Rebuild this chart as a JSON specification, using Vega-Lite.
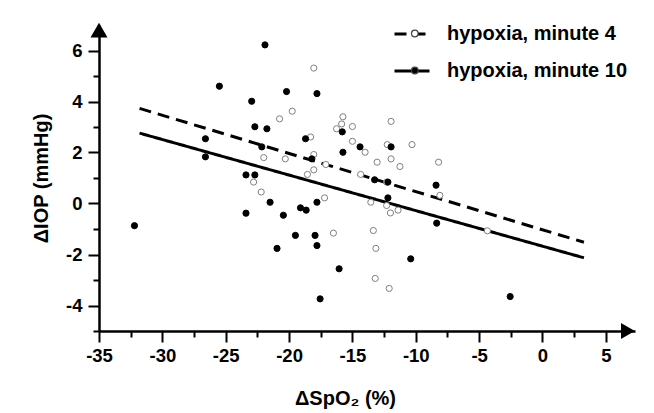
{
  "$schema": "https://vega.github.io/schema/vega-lite/v6.json",
  "width": 536,
  "height": 306,
  "autosize": {"type": "none"},
  "padding": {"left": 99, "top": 25, "right": 19, "bottom": 82},
  "background": "white",
  "config": {
    "view": {"stroke": null},
    "font": "Liberation Sans",
    "axis": {
      "grid": false,
      "domainColor": "black",
      "domainWidth": 2.5,
      "tickColor": "black",
      "tickWidth": 2,
      "labelFont": "Liberation Sans",
      "labelFontWeight": "bold",
      "labelFontSize": 18.5,
      "labelColor": "black",
      "titleFont": "Liberation Sans",
      "titleFontWeight": "bold",
      "titleFontSize": 20,
      "titleColor": "black"
    }
  },
  "datasets": {
    "pts": [
      {"series": "hypoxia, minute 4", "x": -22.0, "y": 1.8},
      {"series": "hypoxia, minute 4", "x": -22.8, "y": 0.84},
      {"series": "hypoxia, minute 4", "x": -22.2, "y": 0.45},
      {"series": "hypoxia, minute 4", "x": -20.3, "y": 1.75},
      {"series": "hypoxia, minute 4", "x": -20.75, "y": 3.32},
      {"series": "hypoxia, minute 4", "x": -19.75, "y": 3.62},
      {"series": "hypoxia, minute 4", "x": -18.05, "y": 5.31},
      {"series": "hypoxia, minute 4", "x": -18.3, "y": 2.61},
      {"series": "hypoxia, minute 4", "x": -18.05, "y": 1.92},
      {"series": "hypoxia, minute 4", "x": -18.05, "y": 1.32},
      {"series": "hypoxia, minute 4", "x": -18.55, "y": 1.14},
      {"series": "hypoxia, minute 4", "x": -17.1, "y": 1.53},
      {"series": "hypoxia, minute 4", "x": -17.2, "y": 0.22},
      {"series": "hypoxia, minute 4", "x": -16.5, "y": -1.16},
      {"series": "hypoxia, minute 4", "x": -15.75, "y": 3.4},
      {"series": "hypoxia, minute 4", "x": -15.85, "y": 3.12},
      {"series": "hypoxia, minute 4", "x": -16.25, "y": 2.93},
      {"series": "hypoxia, minute 4", "x": -15.0, "y": 3.02},
      {"series": "hypoxia, minute 4", "x": -15.0, "y": 2.44},
      {"series": "hypoxia, minute 4", "x": -14.0, "y": 2.01},
      {"series": "hypoxia, minute 4", "x": -14.35, "y": 1.14},
      {"series": "hypoxia, minute 4", "x": -13.05, "y": 1.62},
      {"series": "hypoxia, minute 4", "x": -12.25, "y": 2.31},
      {"series": "hypoxia, minute 4", "x": -11.95, "y": 3.22},
      {"series": "hypoxia, minute 4", "x": -10.3, "y": 2.31},
      {"series": "hypoxia, minute 4", "x": -11.95, "y": 1.75},
      {"series": "hypoxia, minute 4", "x": -11.25, "y": 1.45},
      {"series": "hypoxia, minute 4", "x": -8.2, "y": 1.62},
      {"series": "hypoxia, minute 4", "x": -12.3, "y": 0.84},
      {"series": "hypoxia, minute 4", "x": -8.1, "y": 0.32},
      {"series": "hypoxia, minute 4", "x": -13.55, "y": 0.05},
      {"series": "hypoxia, minute 4", "x": -12.3, "y": -0.08},
      {"series": "hypoxia, minute 4", "x": -12.0, "y": -0.37},
      {"series": "hypoxia, minute 4", "x": -11.4, "y": -0.26},
      {"series": "hypoxia, minute 4", "x": -13.35, "y": -1.06},
      {"series": "hypoxia, minute 4", "x": -13.15, "y": -1.76},
      {"series": "hypoxia, minute 4", "x": -13.2, "y": -2.94},
      {"series": "hypoxia, minute 4", "x": -12.1, "y": -3.33},
      {"series": "hypoxia, minute 4", "x": -4.35, "y": -1.07},
      {"series": "hypoxia, minute 10", "x": -32.2, "y": -0.87},
      {"series": "hypoxia, minute 10", "x": -26.6, "y": 2.54},
      {"series": "hypoxia, minute 10", "x": -26.6, "y": 1.83},
      {"series": "hypoxia, minute 10", "x": -25.5, "y": 4.6},
      {"series": "hypoxia, minute 10", "x": -23.4, "y": 1.12},
      {"series": "hypoxia, minute 10", "x": -22.7, "y": 1.12},
      {"series": "hypoxia, minute 10", "x": -23.4, "y": -0.38},
      {"series": "hypoxia, minute 10", "x": -22.95, "y": 4.01},
      {"series": "hypoxia, minute 10", "x": -22.7, "y": 3.01},
      {"series": "hypoxia, minute 10", "x": -21.9, "y": 6.22},
      {"series": "hypoxia, minute 10", "x": -21.75, "y": 2.93},
      {"series": "hypoxia, minute 10", "x": -22.15, "y": 2.22},
      {"series": "hypoxia, minute 10", "x": -21.5, "y": 0.05},
      {"series": "hypoxia, minute 10", "x": -20.45, "y": -0.46},
      {"series": "hypoxia, minute 10", "x": -20.2, "y": 4.39},
      {"series": "hypoxia, minute 10", "x": -19.1, "y": -0.17},
      {"series": "hypoxia, minute 10", "x": -18.65, "y": -0.26},
      {"series": "hypoxia, minute 10", "x": -17.8, "y": 0.05},
      {"series": "hypoxia, minute 10", "x": -18.7, "y": 2.54},
      {"series": "hypoxia, minute 10", "x": -18.2, "y": 1.75},
      {"series": "hypoxia, minute 10", "x": -17.8, "y": 4.31},
      {"series": "hypoxia, minute 10", "x": -19.5, "y": -1.25},
      {"series": "hypoxia, minute 10", "x": -20.95, "y": -1.76},
      {"series": "hypoxia, minute 10", "x": -17.95, "y": -1.25},
      {"series": "hypoxia, minute 10", "x": -17.8, "y": -1.65},
      {"series": "hypoxia, minute 10", "x": -17.55, "y": -3.74},
      {"series": "hypoxia, minute 10", "x": -16.05, "y": -2.56},
      {"series": "hypoxia, minute 10", "x": -15.8, "y": 2.81},
      {"series": "hypoxia, minute 10", "x": -15.75, "y": 2.01},
      {"series": "hypoxia, minute 10", "x": -14.4, "y": 2.22},
      {"series": "hypoxia, minute 10", "x": -13.25, "y": 0.93},
      {"series": "hypoxia, minute 10", "x": -12.2, "y": 0.84},
      {"series": "hypoxia, minute 10", "x": -12.2, "y": 0.22},
      {"series": "hypoxia, minute 10", "x": -11.95, "y": 2.22},
      {"series": "hypoxia, minute 10", "x": -10.4, "y": -2.17},
      {"series": "hypoxia, minute 10", "x": -8.4, "y": 0.72},
      {"series": "hypoxia, minute 10", "x": -8.35, "y": -0.77},
      {"series": "hypoxia, minute 10", "x": -2.55, "y": -3.65}
    ],
    "fits": [
      {"fit": "hypoxia, minute 4 ", "x": -31.8, "y": 3.73},
      {"fit": "hypoxia, minute 4 ", "x": 3.27, "y": -1.52},
      {"fit": "hypoxia, minute 10 ", "x": -31.8, "y": 2.76},
      {"fit": "hypoxia, minute 10 ", "x": 3.27, "y": -2.13}
    ],
    "arrows": [
      {"x": -35, "y": 6.8, "shape": "triangle-up", "size": 289},
      {"x": 6.74, "y": -5, "shape": "triangle-right", "size": 256}
    ]
  },
  "encoding": {
    "x": {
      "field": "x",
      "type": "quantitative",
      "scale": {"domain": [-35, 7.3], "nice": false, "zero": false},
      "axis": {
        "title": "ΔSpO₂ (%)",
        "values": [-35, -32.5, -30, -27.5, -25, -22.5, -20, -17.5, -15, -12.5, -10, -7.5, -5, -2.5, 0, 2.5, 5],
        "tickSize": {"condition": {"test": "datum.value % 5 === 0", "value": 11}, "value": 6},
        "labelExpr": "datum.value % 5 === 0 ? '' + datum.value : ''",
        "labelPadding": 4,
        "labelFlush": false,
        "labelOverlap": false,
        "titleX": 246,
        "titlePadding": 24
      }
    },
    "y": {
      "field": "y",
      "type": "quantitative",
      "scale": {"domain": [-5, 7], "nice": false, "zero": false},
      "axis": {
        "title": "ΔIOP (mmHg)",
        "values": [-5, -4, -3, -2, -1, 0, 1, 2, 3, 4, 5, 6],
        "tickSize": {"condition": {"test": "datum.value % 2 === 0", "value": 11}, "value": 6},
        "labelExpr": "datum.value % 2 === 0 ? '' + datum.value : ''",
        "labelPadding": 6,
        "labelFlush": false,
        "labelOverlap": false,
        "titlePadding": 14
      }
    }
  },
  "layer": [
    {
      "data": {"name": "fits"},
      "mark": {"type": "line", "strokeWidth": 3, "color": "black"},
      "encoding": {
        "detail": {"field": "fit"},
        "strokeDash": {
          "field": "fit",
          "type": "nominal",
          "scale": {"domain": ["hypoxia, minute 4 ", "hypoxia, minute 10 "], "range": [[12, 7], [1, 0]]},
          "legend": {
            "title": null,
            "orient": "none",
            "legendX": 294,
            "legendY": -10,
            "padding": 0,
            "zindex": 1,
            "symbolType": "stroke",
            "symbolSize": 1225,
            "symbolStrokeWidth": 3,
            "symbolStrokeColor": "black",
            "labelFont": "Liberation Sans",
            "labelFontSize": 20,
            "labelFontWeight": "bold",
            "labelOpacity": 0,
            "labelOffset": 17,
            "rowPadding": 8,
            "labelLimit": 300
          }
        }
      }
    },
    {
      "data": {"name": "pts"},
      "mark": {"type": "point", "shape": "circle", "size": 38, "strokeWidth": 1, "opacity": 1, "filled": true},
      "encoding": {
        "fill": {
          "field": "series",
          "type": "nominal",
          "scale": {"domain": ["hypoxia, minute 4", "hypoxia, minute 10"], "range": ["white", "black"]},
          "legend": {
            "title": null,
            "orient": "none",
            "legendX": 294,
            "legendY": -10,
            "padding": 0,
            "zindex": 2,
            "symbolSize": 1225,
            "symbolStrokeWidth": 1.2,
            "symbolStrokeColor": "#404040",
            "symbolType": "M0,0A0.19,0.19 0 1,0 0.38,0A0.19,0.19 0 1,0 0,0",
            "labelFont": "Liberation Sans",
            "labelFontSize": 20,
            "labelFontWeight": "bold",
            "labelColor": "black",
            "labelOffset": 17,
            "rowPadding": 8,
            "labelLimit": 300
          }
        },
        "stroke": {
          "condition": {"test": "datum.series === 'hypoxia, minute 4'", "value": "#808080"},
          "value": "black"
        }
      }
    },
    {
      "data": {"name": "arrows"},
      "mark": {"type": "point", "filled": true, "color": "black", "opacity": 1},
      "encoding": {
        "shape": {"field": "shape", "type": "nominal", "scale": null},
        "size": {"field": "size", "type": "quantitative", "scale": null}
      }
    }
  ]
}
